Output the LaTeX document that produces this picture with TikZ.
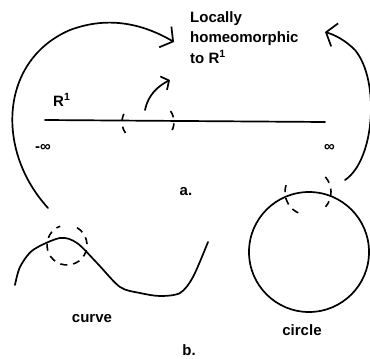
\documentclass[tikz,border=0pt]{standalone}
\usepackage{fontspec}
\setmainfont{Liberation Sans}
\usepackage{tikz}
\usetikzlibrary{arrows.meta,positioning}
\tikzset{
  lbl/.style={font=\fontsize{15}{20.5}\selectfont\bfseries,inner sep=0pt},
  stroke/.style={line width=1.7pt,line cap=round},
  dsh/.style={line width=1.6pt,dash pattern=on 7pt off 6pt},
  bigarr/.style={stroke,-{Straight Barb[length=9pt,width=24pt,line width=1.7pt]}},
  smallarr/.style={stroke,-{Straight Barb[length=6pt,width=15pt,line width=1.7pt]}},
}
\begin{document}
\begin{tikzpicture}[x=1pt,y=-1pt]
    \useasboundingbox (0,0) rectangle (370,359);

    \node[lbl,anchor=base west,align=left] (HOMEO) at (190,63)
      {Locally\\homeomorphic\\to R$^{\mathbf 1}$};
    \node[lbl,anchor=base west] (RONE) at (53,106) {R$^{\mathbf 1}$};
    \node[lbl,anchor=base west] (MINF) at (35,151) {-∞};
    \node[lbl,anchor=base west] (PINF) at (324,151) {∞};
    \node[lbl,anchor=base] (A)     at (186,195) {a.};
    \node[lbl,anchor=base] (CURVE) at (92,322)  {curve};
    \node[lbl,anchor=base] (CIRC)  at (302,335) {circle};
    \node[lbl,anchor=base] (B)     at (189,355) {b.};

    \coordinate (LEFT)  at (45,120);
    \coordinate (RIGHT) at (325,122);
    \coordinate (NB1)   at (148,122);
    \coordinate (NB2)   at (67,245);
    \coordinate (NB3)   at (308,192);
    \coordinate (RING)  at (309,252);
    \coordinate (HL)    at (174,42);
    \coordinate (HR)    at (325,32);

    % a. the real line
    \draw[stroke] (LEFT) -- (RIGHT);
    \draw[dsh] ([shift={(150:26 and 22)}]NB1) arc[start angle=150,end angle=210,x radius=26,y radius=22];
    \draw[dsh] ([shift={(-30:26 and 22)}]NB1) arc[start angle=-30,end angle=30,x radius=26,y radius=22];
    \draw[smallarr] (145,110) .. controls (148,95) and (158,86) .. (170,80);

    % b. curve and circle
    \draw[stroke] plot[smooth] coordinates {(15,285) (20,267) (33,250) (60,238) (77,243)
      (97,263) (120,287) (140,293) (160,296) (180,293) (193,277) (208,242)};
    \draw[dsh] ([shift={(-60:20)}]NB2) arc[start angle=-60,end angle=250,radius=20];
    \draw[stroke] (RING) circle[radius=60];
    \draw[dsh] ([shift={(115:23)}]NB3) arc[start angle=115,end angle=211,radius=23];
    \draw[dsh] ([shift={(-41:23)}]NB3) arc[start angle=-41,end angle=40,radius=23];

    % the two big arrows
    \draw[bigarr] (48,208) .. controls (-5,150) and (0,60) .. (70,30)
      .. controls (110,15) and (145,25) .. (HL);
    \draw[bigarr] (345,180) .. controls (375,160) and (380,80) .. (355,50)
      .. controls (345,40) and (335,35) .. (HR);
  \end{tikzpicture}
\end{document}
